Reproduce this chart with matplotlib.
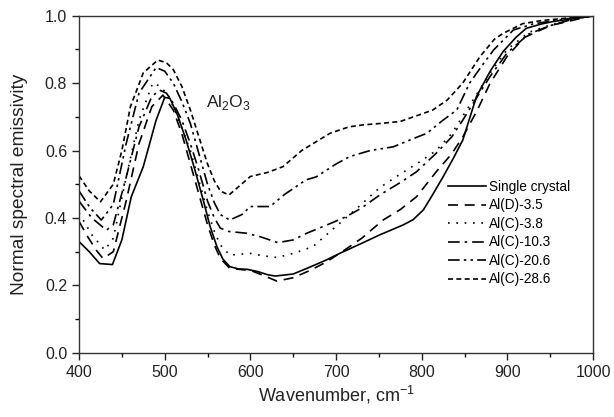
import matplotlib
matplotlib.use("Agg")
import matplotlib.pyplot as plt
from matplotlib.ticker import MultipleLocator

plt.rcParams['font.family'] = ['Liberation Sans', 'DejaVu Sans']

labels = ["Single crystal", "Al(D)-3.5", "Al(C)-3.8", "Al(C)-10.3", "Al(C)-20.6", "Al(C)-28.6"]

w_single = [400, 412, 424, 439, 450, 461, 475, 490, 500, 506, 515, 525, 535, 545, 553, 561, 568, 576, 586, 596,
            609, 620, 629, 650, 670, 689, 705, 730, 751, 778, 790, 802, 813, 825, 837, 848, 864, 880, 895, 910,
            922, 940, 953, 975, 1000]
e_single = [0.330, 0.300, 0.265, 0.262, 0.335, 0.463, 0.552, 0.690, 0.757, 0.755, 0.705, 0.631, 0.545, 0.453,
            0.375, 0.315, 0.278, 0.256, 0.249, 0.248, 0.241, 0.232, 0.228, 0.234, 0.255, 0.276, 0.296, 0.325,
            0.350, 0.379, 0.395, 0.424, 0.470, 0.522, 0.577, 0.631, 0.760, 0.835, 0.893, 0.935, 0.962, 0.975,
            0.982, 0.990, 0.998]

w_d35 = [400, 410, 420, 428, 440, 455, 470, 485, 498, 510, 520, 530, 540, 550, 558, 565, 576, 590, 600, 615,
         631, 650, 670, 689, 710, 730, 755, 775, 794, 817, 835, 848, 865, 880, 900, 920, 950, 975, 1000]
e_d35 = [0.390, 0.345, 0.305, 0.280, 0.300, 0.450, 0.620, 0.730, 0.764, 0.720, 0.650, 0.560, 0.470, 0.380,
         0.320, 0.280, 0.251, 0.247, 0.245, 0.230, 0.213, 0.223, 0.245, 0.270, 0.305, 0.340, 0.394, 0.425,
         0.463, 0.537, 0.590, 0.640, 0.720, 0.800, 0.880, 0.935, 0.970, 0.985, 1.0]

w_c38 = [400, 415, 430, 440, 455, 470, 486, 495, 505, 515, 530, 540, 550, 558, 565, 576, 590, 600, 615, 631,
         650, 673, 700, 725, 751, 775, 800, 817, 835, 850, 865, 880, 900, 925, 950, 975, 1000]
e_c38 = [0.415, 0.350, 0.305, 0.340, 0.520, 0.690, 0.800, 0.790, 0.760, 0.700, 0.600, 0.510, 0.420, 0.360,
         0.320, 0.290, 0.293, 0.295, 0.288, 0.283, 0.295, 0.315, 0.375, 0.430, 0.490, 0.530, 0.570, 0.600,
         0.650, 0.710, 0.770, 0.830, 0.900, 0.950, 0.972, 0.988, 1.0]

w_c103 = [400, 415, 432, 440, 455, 470, 485, 494, 502, 510, 520, 530, 540, 550, 558, 565, 575, 595, 611, 632,
          650, 666, 690, 712, 730, 751, 775, 794, 817, 835, 848, 865, 880, 900, 925, 950, 975, 1000]
e_c103 = [0.450, 0.400, 0.364, 0.380, 0.520, 0.670, 0.760, 0.779, 0.770, 0.740, 0.690, 0.620, 0.540, 0.450,
          0.400, 0.370, 0.360, 0.355, 0.345, 0.327, 0.335, 0.355, 0.380, 0.404, 0.430, 0.468, 0.505, 0.537,
          0.592, 0.640, 0.690, 0.760, 0.820, 0.890, 0.945, 0.970, 0.988, 1.0]

w_c206 = [400, 413, 426, 440, 455, 470, 490, 500, 510, 520, 530, 540, 550, 558, 565, 576, 590, 600, 615, 623,
          640, 665, 677, 700, 716, 740, 767, 790, 806, 825, 841, 856, 870, 884, 907, 930, 955, 975, 1000]
e_c206 = [0.480, 0.430, 0.394, 0.440, 0.620, 0.770, 0.846, 0.835, 0.800, 0.745, 0.680, 0.590, 0.500, 0.445,
          0.410, 0.394, 0.410, 0.434, 0.434, 0.434, 0.470, 0.513, 0.522, 0.560, 0.582, 0.600, 0.611, 0.635,
          0.651, 0.690, 0.720, 0.800, 0.850, 0.898, 0.957, 0.975, 0.985, 0.992, 1.0]

w_c286 = [400, 412, 425, 440, 450, 460, 475, 492, 502, 510, 520, 530, 540, 550, 558, 565, 575, 585, 600, 620,
          638, 660, 693, 715, 732, 751, 775, 802, 813, 830, 848, 868, 885, 895, 918, 940, 960, 980, 1000]
e_c286 = [0.525, 0.480, 0.448, 0.500, 0.600, 0.730, 0.830, 0.868, 0.860, 0.840, 0.790, 0.720, 0.640, 0.560,
          0.510, 0.480, 0.468, 0.490, 0.523, 0.535, 0.552, 0.600, 0.651, 0.670, 0.676, 0.680, 0.686, 0.710,
          0.720, 0.750, 0.800, 0.878, 0.930, 0.947, 0.976, 0.985, 0.990, 0.995, 1.0]

series = [(w_single, e_single), (w_d35, e_d35), (w_c38, e_c38),
          (w_c103, e_c103), (w_c206, e_c206), (w_c286, e_c286)]
styles = ['-', (0, (6, 4)), (0, (1, 4)), (0, (7, 3, 1.5, 3)), (0, (7, 2.5, 1.5, 2.5, 1.5, 2.5)), (0, (3, 2))]

fig = plt.figure(figsize=(6.14, 4.17), dpi=100)
ax = fig.add_axes([0.1287, 0.1535, 0.8371, 0.8093])

for (w, e), ls, lab in zip(series, styles, labels):
    ax.plot(w, e, color='black', linestyle=ls, linewidth=1.2, label=lab)

ax.set_xlim(400, 1000)
ax.set_ylim(0.0, 1.0)
ax.xaxis.set_major_locator(MultipleLocator(100))
ax.xaxis.set_minor_locator(MultipleLocator(50))
ax.yaxis.set_major_locator(MultipleLocator(0.2))
ax.yaxis.set_minor_locator(MultipleLocator(0.1))
ax.yaxis.set_major_formatter(matplotlib.ticker.FormatStrFormatter('%.1f'))
ax.tick_params(which='major', direction='out', length=5, width=1, labelsize=11.5, colors='#222222')
ax.tick_params(which='minor', direction='out', length=3, width=1)
for s in ax.spines.values():
    s.set_linewidth(1.0)
    s.set_color('#333333')

ax.set_xlabel('Wavenumber, cm$^{\\mathregular{-1}}$', fontsize=13, color='#222222', labelpad=3)
ax.set_ylabel('Normal spectral emissivity', fontsize=13.8, color='#222222', labelpad=12)

ax.text(548, 0.73, 'Al$_\\mathregular{2}$O$_\\mathregular{3}$', fontsize=12.5, color='#222222')

leg = ax.legend(loc='center left', bbox_to_anchor=(0.718, 0.355), frameon=False,
                fontsize=9.8, handlelength=2.8, handletextpad=0.2, labelspacing=0.33,
                borderpad=0, borderaxespad=0)

fig.savefig('out.png', dpi=100)
